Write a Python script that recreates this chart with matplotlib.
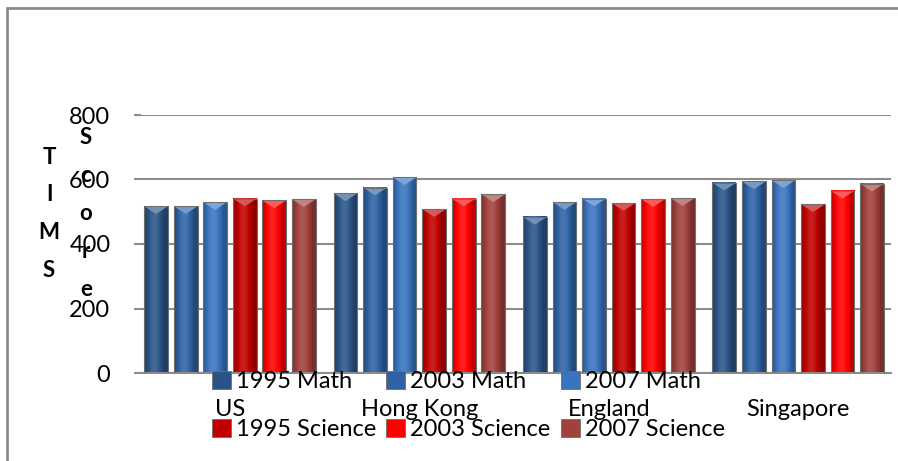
import numpy as np
import matplotlib.pyplot as plt
from matplotlib.colors import to_rgb
from matplotlib.patches import Patch, Polygon, Rectangle

# TIMSS scores
countries = ['US', 'Hong Kong', 'England', 'Singapore']
series = ['1995 Math', '2003 Math', '2007 Math',
          '1995 Science', '2003 Science', '2007 Science']
math_1995 = [517, 557, 484, 590]
math_2003 = [517, 575, 530, 594]
math_2007 = [530, 607, 541, 598]
sci_1995 = [541, 508, 527, 523]
sci_2003 = [535, 541, 539, 565]
sci_2007 = [539, 554, 542, 587]
yticks = [0, 200, 400, 600, 800]

values = [math_1995, math_2003, math_2007, sci_1995, sci_2003, sci_2007]
colors = ['#2A5487', '#2F62A3', '#3A74BE', '#C00000', '#FF0000', '#A0413C']

W, H = 898, 461
plt.rcParams['font.family'] = ['Lato', 'DejaVu Sans']
fig = plt.figure(figsize=(W / 100, H / 100), dpi=100)
ax = fig.add_axes([141 / W, 88 / H, (891 - 141) / W, (373 - 115) / H])


def shade(c, f):
    c = np.array(to_rgb(c))
    if f < 1:
        return c * f
    return c + (1 - c) * (f - 1)


x = np.arange(len(countries))
pitch = 0.156
bw = 0.125
tri = 24  # bevel depth in data units

for i, (vals, col) in enumerate(zip(values, colors)):
    off = (i - 2.5) * pitch
    bars = ax.bar(x + off, vals, bw, color='none', edgecolor='#6f6f6f',
                  linewidth=0.8, zorder=3)
    t = np.linspace(0, 1, 40)
    prof = 0.74 + 0.38 * np.sin(np.pi * np.clip(t * 1.15, 0, 1))
    grad = np.array([[shade(col, f) for f in prof]])
    for b in bars:
        x0, w, h = b.get_x(), b.get_width(), b.get_height()
        ax.imshow(grad, extent=(x0, x0 + w, 0, h), aspect='auto',
                  interpolation='bilinear', zorder=2)
        ax.add_patch(Polygon([(x0, h), (x0 + w, h), (x0 + w / 2, h - tri)],
                             closed=True, facecolor=shade(col, 1.35),
                             edgecolor='none', zorder=2.5))

ax.set_xlim(-0.47, 3.49)
ax.set_ylim(0, 800)
ax.set_yticks(yticks)
ax.set_xticks(x)
ax.set_xticklabels(countries)
ax.yaxis.grid(True, color='#8c8c8c', linewidth=1.5, zorder=0)
ax.set_axisbelow(True)
for s in ['left', 'right', 'top']:
    ax.spines[s].set_visible(False)
ax.spines['bottom'].set_color('#8c8c8c')
ax.spines['bottom'].set_linewidth(1.5)
ax.tick_params(axis='y', length=5, color='#8c8c8c', width=1.5, pad=17,
               labelsize=17)
ax.tick_params(axis='x', length=0, pad=18.5, labelsize=17)

# stacked letters of the axis title, as Excel drew it
for k, ch in enumerate('TIMS'):
    fig.text(49 / W, 1 - (157 + 37.7 * k) / H, ch, fontsize=16,
             fontweight='bold', ha='center', va='center')
for k, ch in enumerate('Score'):
    fig.text(86 / W, 1 - (137 + 38 * k) / H, ch, fontsize=16,
             fontweight='bold', ha='center', va='center')

order = [0, 3, 1, 4, 2, 5]
handles = [Patch(facecolor=colors[i], edgecolor='#6f6f6f', linewidth=0.6)
           for i in order]
labels = [series[i] for i in order]
fig.legend(handles, labels, loc='upper left', ncol=3,
           bbox_to_anchor=(212 / W, 1 - 371 / H), frameon=False,
           fontsize=17, borderpad=0, borderaxespad=0, handlelength=0.8,
           handleheight=0.8, handletextpad=0.2, columnspacing=0.45,
           labelspacing=1.14)

fig.patches.append(Rectangle((7 / W, -0.1), 1.2, (H - 8) / H + 0.1,
                             transform=fig.transFigure, fill=False,
                             edgecolor='#8c8c8c', linewidth=2))

fig.savefig('out.png', dpi=100)
